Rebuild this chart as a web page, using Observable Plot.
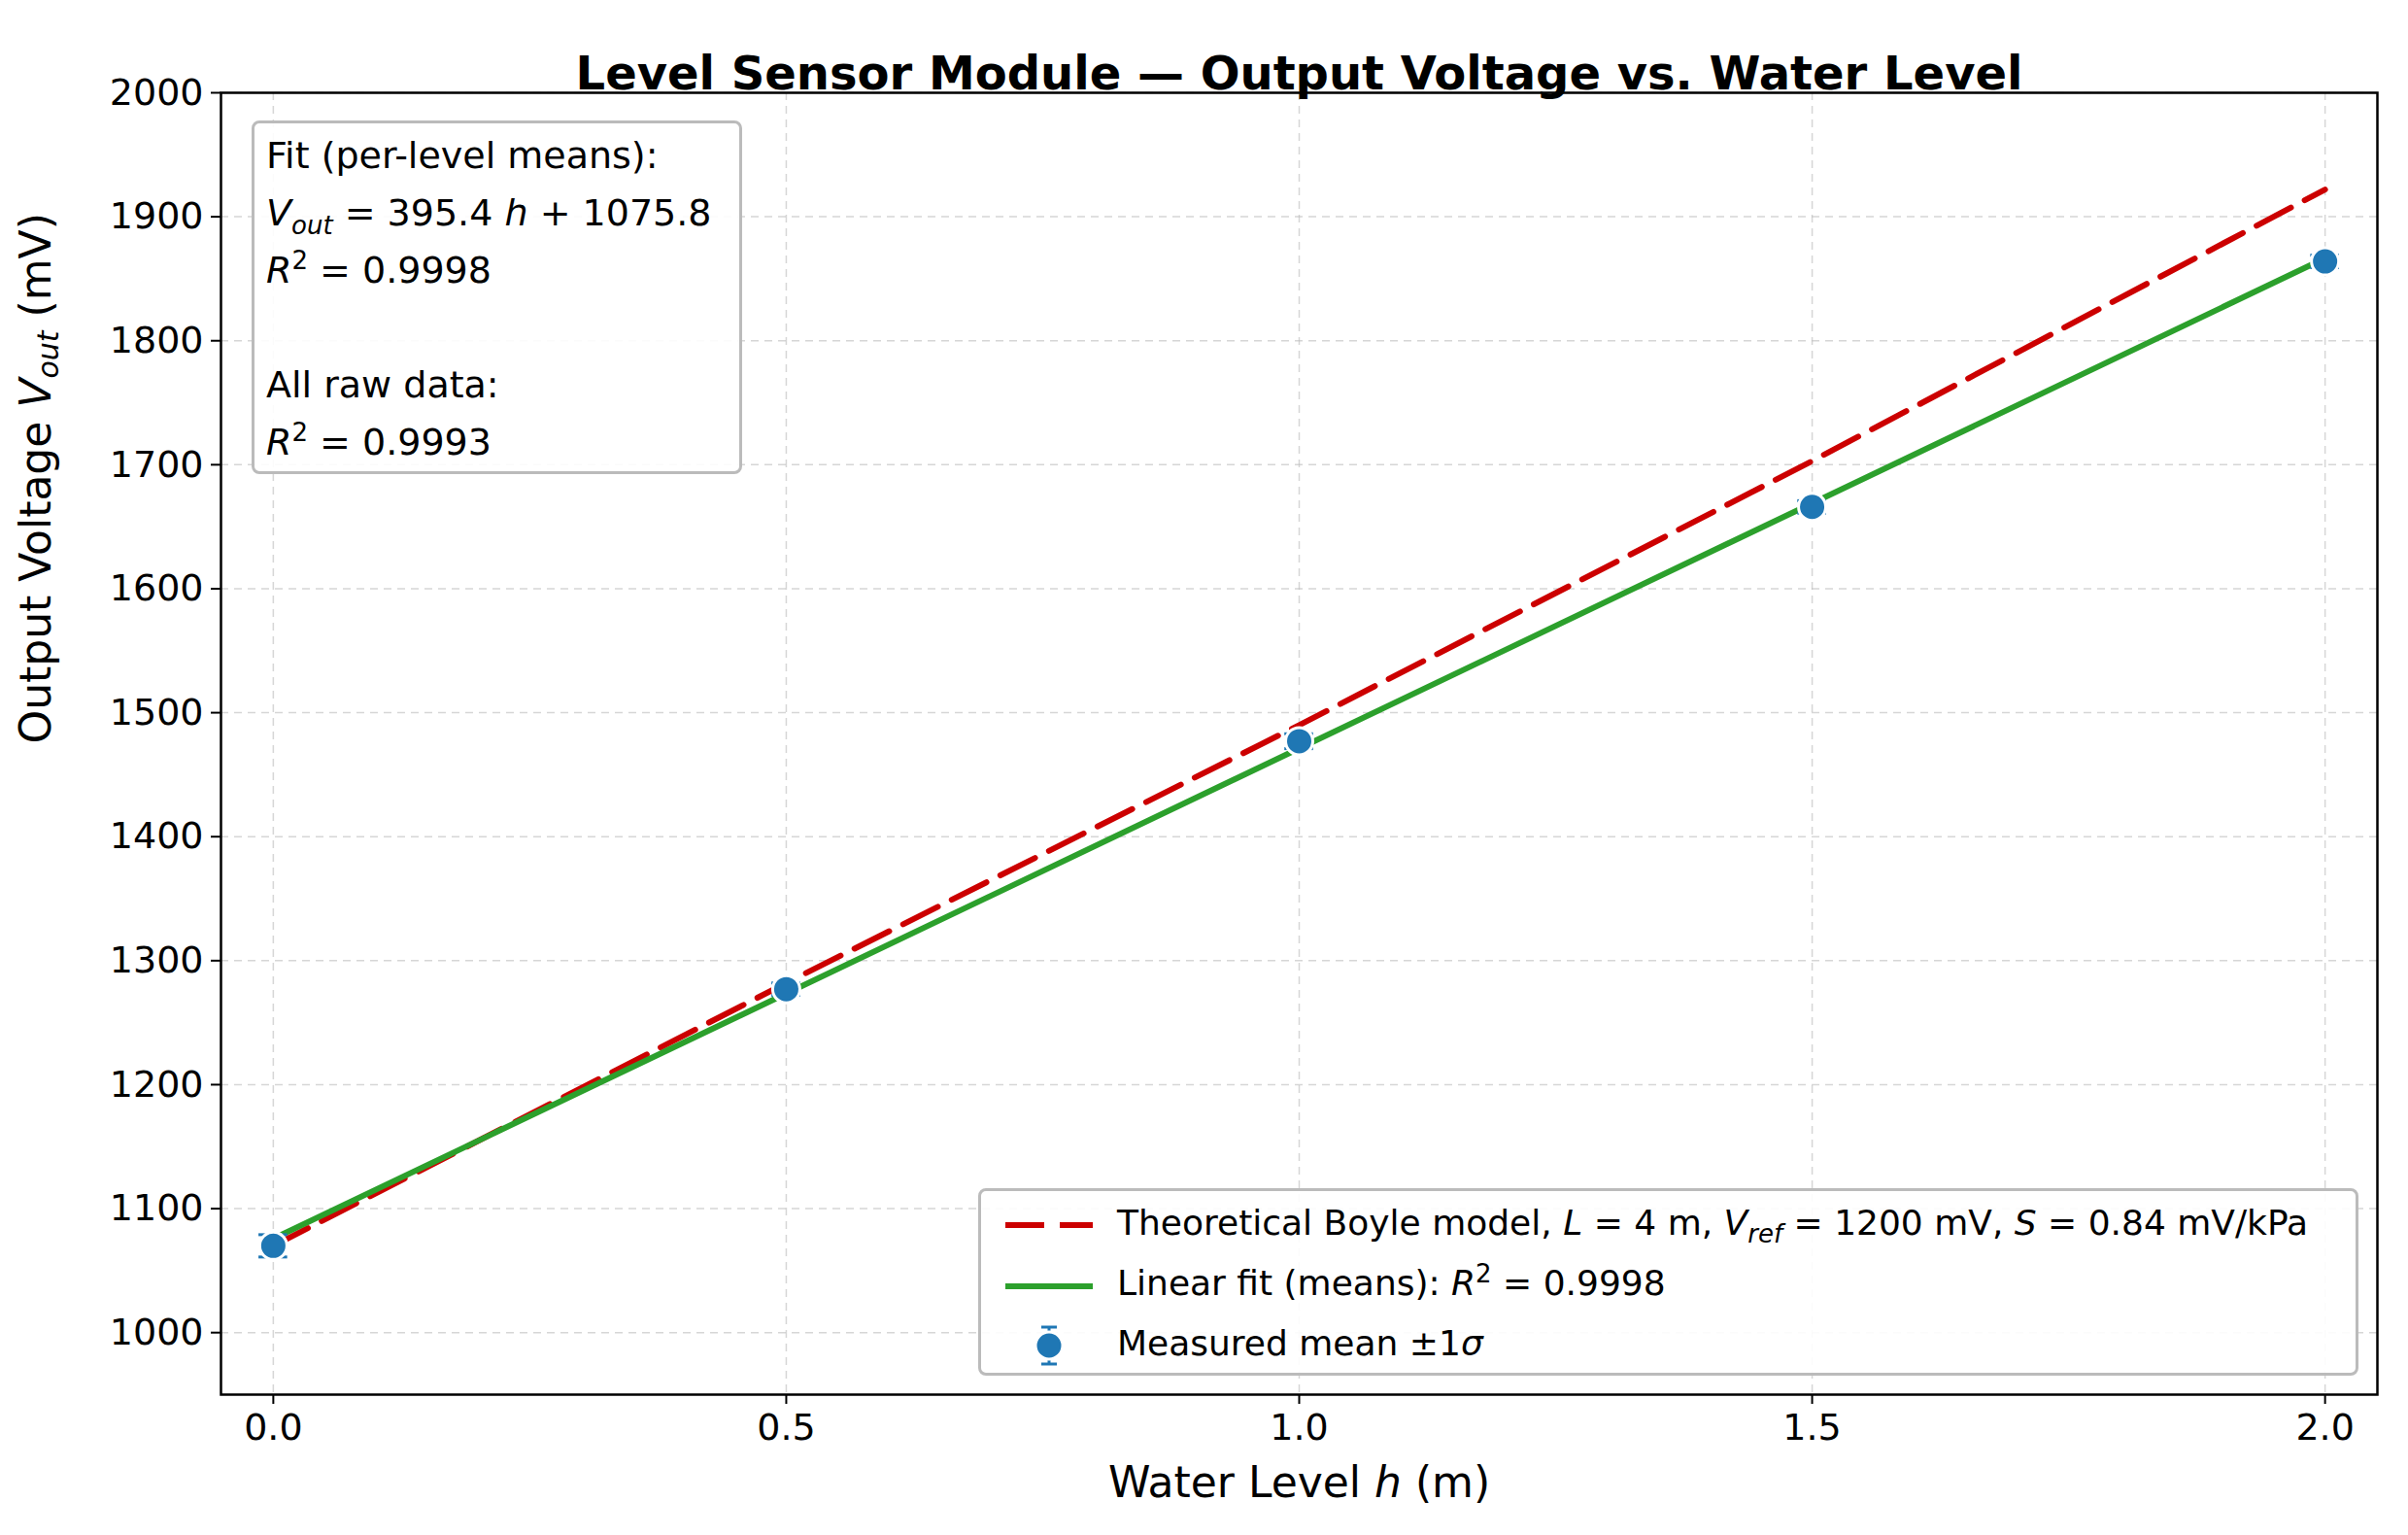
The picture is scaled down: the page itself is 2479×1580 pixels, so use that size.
<!DOCTYPE html>
<html><head><meta charset="utf-8">
<script src="https://cdn.jsdelivr.net/npm/d3@7"></script>
<script src="https://cdn.jsdelivr.net/npm/@observablehq/plot@0.6"></script>
<style>
body{margin:0;background:#fff;font-family:"DejaVu Sans",sans-serif;}
#wrap{position:relative;width:2479px;height:1580px;}
.box{position:absolute;background:rgba(255,255,255,0.9);border:3px solid #bbb;border-radius:8px;font-size:38px;color:#000;box-sizing:border-box;}
.box i{font-style:italic}
sub,sup{font-size:26px;line-height:0}
</style></head><body><div id="wrap"></div>
<script>
const levels = [0, 0.5, 1.0, 1.5, 2.0];
const means = [1070, 1277, 1477, 1666, 1864];
const sds = [9, 5, 6, 5, 5];
const theoryH = [0, 0.5, 1.0, 1.5, 2.0];
const theoryV = [1070, 1282, 1490, 1703, 1922];
const fitSlope = 395.4, fitIntercept = 1075.8;
const fitH = [0, 2.0];
const xTicks = [0, 0.5, 1.0, 1.5, 2.0];
const yTicks = d3.range(1000, 2001, 100);

const pts = levels.map((h,i)=>({h, v:means[i], lo:means[i]-sds[i], hi:means[i]+sds[i]}));
const theory = theoryH.map((h,i)=>({h, v:theoryV[i]}));
const fit = fitH.map(h=>({h, v:fitSlope*h+fitIntercept}));
const capW = 0.014;

const chart = Plot.plot({
  width:2479, height:1580,
  marginLeft:227, marginRight:32, marginTop:95, marginBottom:145,
  style:{fontFamily:"DejaVu Sans", fontSize:"38px", background:"#fff"},
  x:{type:"linear", domain:[-0.051,2.051], label:null},
  y:{type:"linear", domain:[950,2000], label:null},
  marks:[
    Plot.gridX(xTicks,{stroke:"#bbb", strokeOpacity:0.6, strokeDasharray:"8,6", strokeWidth:1.5}),
    Plot.gridY(yTicks,{stroke:"#bbb", strokeOpacity:0.6, strokeDasharray:"8,6", strokeWidth:1.5}),
    Plot.frame({stroke:"#000", strokeWidth:2.5}),
    Plot.axisX({ticks:xTicks, tickFormat:d3.format(".1f"), tickSize:10, tickPadding:10, fontSize:38, label:null, strokeWidth:2}),
    Plot.axisY({ticks:yTicks, tickFormat:d=>String(d), tickSize:10, tickPadding:8, fontSize:38, label:null, strokeWidth:2}),
    Plot.line(theory,{x:"h", y:"v", stroke:"#cc0000", strokeWidth:6, strokeDasharray:"40,16"}),
    Plot.line(fit,{x:"h", y:"v", stroke:"#2ca02c", strokeWidth:6}),
    Plot.ruleX(pts,{x:"h", y1:"lo", y2:"hi", stroke:"#1f77b4", strokeWidth:3}),
    Plot.ruleY(pts,{y:"lo", x1:d=>d.h-capW, x2:d=>d.h+capW, stroke:"#1f77b4", strokeWidth:3}),
    Plot.ruleY(pts,{y:"hi", x1:d=>d.h-capW, x2:d=>d.h+capW, stroke:"#1f77b4", strokeWidth:3}),
    Plot.dot(pts,{x:"h", y:"v", r:14, fill:"#1f77b4", stroke:"#fff", strokeWidth:3}),
    Plot.text(["Level Sensor Module — Output Voltage vs. Water Level"],{frameAnchor:"top", dy:-38, fontSize:48, fontWeight:"bold"}),
    Plot.text(["Water Level h (m)"],{frameAnchor:"bottom", dy:105, fontSize:44}),
    Plot.text(["Output Voltage Vout (mV)"],{frameAnchor:"left", dx:-190, rotate:-90, fontSize:44})
  ]
});
const wrap = document.getElementById("wrap");
wrap.appendChild(chart);
chart.querySelectorAll("text").forEach(t=>{
  if(t.textContent==="Water Level h (m)"){t.innerHTML='Water Level <tspan font-style="italic">h</tspan> (m)';}
  if(t.textContent==="Output Voltage Vout (mV)"){t.innerHTML='Output Voltage <tspan font-style="italic">V</tspan><tspan font-style="italic" font-size="30" dy="8">out</tspan><tspan dy="-8"> (mV)</tspan>';}
});
const ann = document.createElement("div");
ann.className="box";
ann.style.cssText="left:259px;top:124px;width:505px;height:364px;padding:4px 0 0 12px;line-height:59px;";
ann.innerHTML='Fit (per-level means):<br><i>V</i><sub><i>out</i></sub> = 395.4 <i>h</i> + 1075.8<br><i>R</i><sup>2</sup> = 0.9998<br><br>All raw data:<br><i>R</i><sup>2</sup> = 0.9993';
wrap.appendChild(ann);
const leg = document.createElement("div");
leg.className="box";
leg.style.cssText="left:1007px;top:1223px;width:1421px;height:193px;font-size:36px;";
leg.innerHTML=`
<svg width="120" height="190" style="position:absolute;left:10px;top:0">
<line x1="15" x2="105" y1="35" y2="35" stroke="#cc0000" stroke-width="6" stroke-dasharray="40,16"/>
<line x1="15" x2="105" y1="98" y2="98" stroke="#2ca02c" stroke-width="6"/>
<line x1="60" x2="60" y1="140" y2="178" stroke="#1f77b4" stroke-width="3"/>
<line x1="52" x2="68" y1="140" y2="140" stroke="#1f77b4" stroke-width="3"/>
<line x1="52" x2="68" y1="178" y2="178" stroke="#1f77b4" stroke-width="3"/>
<circle cx="60" cy="159" r="14" fill="#1f77b4" stroke="#fff" stroke-width="3"/></svg>
<div style="position:absolute;left:140px;top:12px;white-space:nowrap">Theoretical Boyle model, <i>L</i> = 4 m, <i>V</i><sub><i>ref</i></sub> = 1200 mV, <i>S</i> = 0.84 mV/kPa</div>
<div style="position:absolute;left:140px;top:74px;white-space:nowrap">Linear fit (means): <i>R</i><sup>2</sup> = 0.9998</div>
<div style="position:absolute;left:140px;top:136px;white-space:nowrap">Measured mean ±1<i>σ</i></div>`;
wrap.appendChild(leg);
</script></body></html>
